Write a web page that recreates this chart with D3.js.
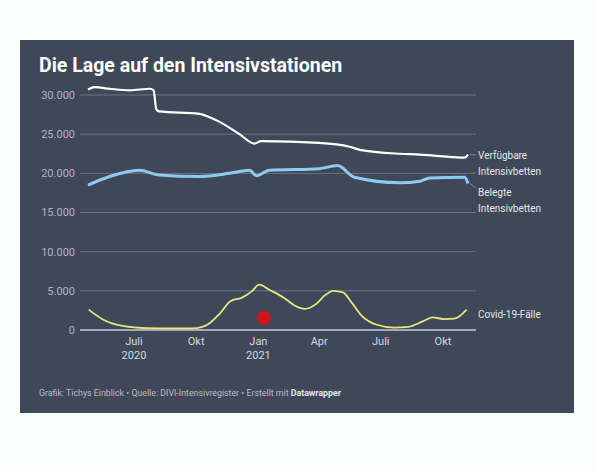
<!DOCTYPE html>
<html><head><meta charset="utf-8">
<script src="https://cdn.jsdelivr.net/npm/d3@7"></script>
<style>
body { margin: 0; background: #fbfcfc; font-family: Roboto, sans-serif; }
</style></head>
<body><div id="chart"></div>
<script>
// values (date, value)
const availableBeds = [
  ["2020-04-24",30700],["2020-05-04",31000],["2020-05-26",30800],["2020-06-25",30600],
  ["2020-07-25",30800],["2020-07-30",30600],["2020-08-03",28200],["2020-08-07",27900],
  ["2020-10-06",27600],["2020-10-20",27200],["2020-11-04",26600],["2020-12-04",25000],
  ["2020-12-26",23800],["2021-01-05",24100],["2021-04-01",23900],["2021-05-16",23400],
  ["2021-05-31",23000],["2021-07-29",22500],["2021-08-28",22400],["2021-09-26",22200],
  ["2021-11-02",22000],["2021-11-07",22400]
];
const occupiedBeds = [
  ["2020-04-24",18500],["2020-05-26",19600],["2020-07-09",20400],["2020-08-07",19800],
  ["2020-10-06",19600],["2020-11-19",20000],["2020-12-19",20400],["2020-12-29",19700],
  ["2021-01-17",20400],["2021-04-01",20600],["2021-04-28",21000],["2021-05-23",19500],
  ["2021-07-29",18800],["2021-08-28",19000],["2021-09-11",19400],["2021-11-02",19500],
  ["2021-11-07",18700]
];
const covidCases = [
  ["2020-04-25",2600],["2020-05-16",1350],["2020-06-16",500],["2020-07-18",250],
  ["2020-09-08",200],["2020-09-24",200],["2020-10-10",400],["2020-10-18",700],
  ["2020-11-05",2100],["2020-11-21",3700],["2020-12-07",4100],["2020-12-23",5000],
  ["2021-01-02",5800],["2021-01-18",5100],["2021-02-08",4100],["2021-02-24",3100],
  ["2021-03-11",2700],["2021-03-27",3300],["2021-04-09",4400],["2021-04-22",5000],
  ["2021-05-06",4800],["2021-05-19",3500],["2021-06-03",1800],["2021-06-24",700],
  ["2021-07-21",300],["2021-08-11",400],["2021-09-01",1100],["2021-09-16",1600],
  ["2021-10-02",1400],["2021-10-18",1450],["2021-11-05",2600]
];
const yTicks = [0,5000,10000,15000,20000,25000,30000];
const xTicks = [["2020-07-01","Juli","2020"],["2020-10-01","Okt",""],["2021-01-01","Jan","2021"],
                ["2021-04-01","Apr",""],["2021-07-01","Juli",""],["2021-10-01","Okt",""]];

const parse = d3.timeParse("%Y-%m-%d");
const W = 597, H = 472;
const svg = d3.select("#chart").append("svg").attr("width", W).attr("height", H);

svg.append("rect").attr("x", 20).attr("y", 40).attr("width", 554).attr("height", 373).attr("fill", "#3e4859");

svg.append("text").attr("x", 39).attr("y", 72).attr("fill", "#fff")
  .attr("font-size", 19.5).attr("font-weight", 700).text("Die Lage auf den Intensivstationen");

const x = d3.scaleTime().domain([parse("2020-04-24"), parse("2021-11-07")]).range([88, 468]);
const y = d3.scaleLinear().domain([0, 30000]).range([330, 95]);
const fmt = v => d3.format(",")(v).replace(/,/g, ".");

yTicks.forEach(t => {
  svg.append("line").attr("x1", 80).attr("x2", 476).attr("y1", y(t)).attr("y2", y(t))
    .attr("stroke", t === 0 ? "#c5cbd4" : "#6a7485").attr("stroke-width", t === 0 ? 1.5 : 1);
  svg.append("text").attr("x", 75).attr("y", y(t)).attr("dy", "0.35em").attr("text-anchor", "end")
    .attr("fill", "#aeb5c0").attr("font-size", 11).text(fmt(t));
});

xTicks.forEach(([d, a, b]) => {
  const g = svg.append("text").attr("x", x(parse(d))).attr("y", 345).attr("text-anchor", "middle")
    .attr("fill", "#d6dae0").attr("font-size", 11);
  g.append("tspan").attr("x", x(parse(d))).text(a);
  if (b) g.append("tspan").attr("x", x(parse(d))).attr("dy", 14).text(b);
});

const line = d3.line().x(d => x(parse(d[0]))).y(d => y(d[1])).curve(d3.curveMonotoneX);
svg.append("path").datum(availableBeds).attr("d", line).attr("fill", "none")
  .attr("stroke", "#ffffff").attr("stroke-width", 2.2);
svg.append("path").datum(occupiedBeds).attr("d", line).attr("fill", "none")
  .attr("stroke", "#8ecbf0").attr("stroke-width", 3);
svg.append("path").datum(covidCases).attr("d", line).attr("fill", "none")
  .attr("stroke", "#e6e67a").attr("stroke-width", 1.8);

// connector ticks from line ends to labels
[[availableBeds, 155], [occupiedBeds, 188]].forEach(([s, ly]) => {
  const last = s[s.length - 1];
  svg.append("line").attr("x1", x(parse(last[0])) + 2).attr("y1", y(last[1]))
    .attr("x2", 476).attr("y2", ly).attr("stroke", "#9aa2ae").attr("stroke-width", 0.7);
});

const labels = [
  [155, ["Verfügbare", "Intensivbetten"]],
  [192, ["Belegte", "Intensivbetten"]],
  [314, ["Covid-19-Fälle"]]
];
labels.forEach(([ly, lines]) => {
  lines.forEach((t, i) => svg.append("text").attr("x", 478).attr("y", ly + i * 16).attr("dy", "0.35em")
    .attr("fill", "#e4e7eb").attr("font-size", 10).text(t));
});

svg.append("circle").attr("cx", 264).attr("cy", 318).attr("r", 7).attr("fill", "#e0101a").attr("opacity", 0.9);

const foot = svg.append("text").attr("x", 39).attr("y", 396).attr("fill", "#b5bcc6").attr("font-size", 8.8);
foot.append("tspan").text("Grafik: Tichys Einblick • Quelle: DIVI-Intensivregister • Erstellt mit ");
foot.append("tspan").attr("font-weight", 700).attr("fill", "#e4e7eb").text("Datawrapper");
</script></body></html>
